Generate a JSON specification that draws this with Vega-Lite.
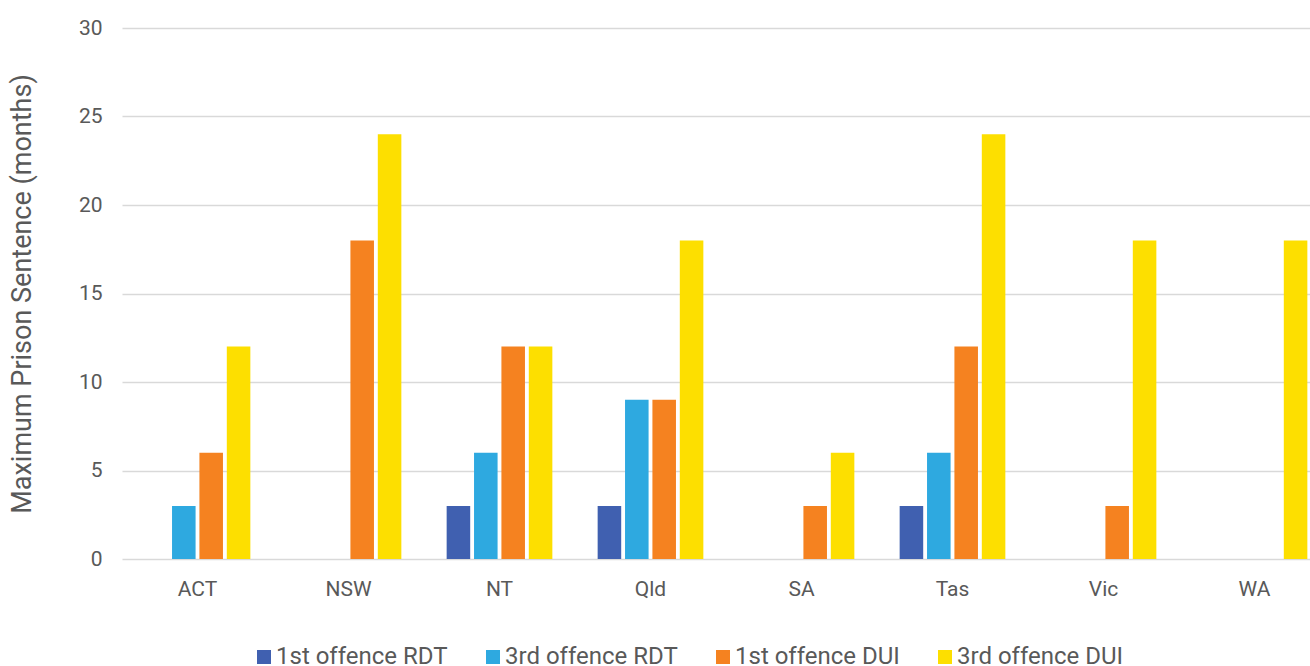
{
  "$schema": "https://vega.github.io/schema/vega-lite/v6.json",
  "autosize": {"type": "none"},
  "padding": {"left": 122, "top": 28, "right": 0, "bottom": 107},
  "width": 1188,
  "height": 531,
  "background": "white",
  "config": {
    "view": {"stroke": null},
    "font": "Roboto",
    "axis": {"labelFont": "Roboto", "titleFont": "Roboto", "labelColor": "#595959", "titleColor": "#595959"},
    "legend": {"labelFont": "Roboto", "labelColor": "#595959"}
  },
  "data": {
    "values": [
      {"state": "ACT", "series": "1st offence RDT", "months": 0},
      {"state": "ACT", "series": "3rd offence RDT", "months": 3},
      {"state": "ACT", "series": "1st offence DUI", "months": 6},
      {"state": "ACT", "series": "3rd offence DUI", "months": 12},
      {"state": "NSW", "series": "1st offence RDT", "months": 0},
      {"state": "NSW", "series": "3rd offence RDT", "months": 0},
      {"state": "NSW", "series": "1st offence DUI", "months": 18},
      {"state": "NSW", "series": "3rd offence DUI", "months": 24},
      {"state": "NT", "series": "1st offence RDT", "months": 3},
      {"state": "NT", "series": "3rd offence RDT", "months": 6},
      {"state": "NT", "series": "1st offence DUI", "months": 12},
      {"state": "NT", "series": "3rd offence DUI", "months": 12},
      {"state": "Qld", "series": "1st offence RDT", "months": 3},
      {"state": "Qld", "series": "3rd offence RDT", "months": 9},
      {"state": "Qld", "series": "1st offence DUI", "months": 9},
      {"state": "Qld", "series": "3rd offence DUI", "months": 18},
      {"state": "SA", "series": "1st offence RDT", "months": 0},
      {"state": "SA", "series": "3rd offence RDT", "months": 0},
      {"state": "SA", "series": "1st offence DUI", "months": 3},
      {"state": "SA", "series": "3rd offence DUI", "months": 6},
      {"state": "Tas", "series": "1st offence RDT", "months": 3},
      {"state": "Tas", "series": "3rd offence RDT", "months": 6},
      {"state": "Tas", "series": "1st offence DUI", "months": 12},
      {"state": "Tas", "series": "3rd offence DUI", "months": 24},
      {"state": "Vic", "series": "1st offence RDT", "months": 0},
      {"state": "Vic", "series": "3rd offence RDT", "months": 0},
      {"state": "Vic", "series": "1st offence DUI", "months": 3},
      {"state": "Vic", "series": "3rd offence DUI", "months": 18},
      {"state": "WA", "series": "1st offence RDT", "months": 0},
      {"state": "WA", "series": "3rd offence RDT", "months": 0},
      {"state": "WA", "series": "1st offence DUI", "months": 0},
      {"state": "WA", "series": "3rd offence DUI", "months": 18}
    ]
  },
  "mark": {"type": "bar"},
  "encoding": {
    "x": {
      "field": "state", "type": "nominal", "sort": null,
      "scale": {"range": [0, 1208], "paddingInner": 0.3, "paddingOuter": 0.15},
      "axis": {"title": null, "labelAngle": 0, "domain": false, "ticks": false, "labelFontSize": 21, "labelPadding": 19}
    },
    "xOffset": {
      "field": "series", "type": "nominal", "sort": null,
      "scale": {"paddingInner": 0.14, "paddingOuter": 0}
    },
    "y": {
      "field": "months", "type": "quantitative",
      "scale": {"domain": [0, 30]},
      "axis": {
        "title": "Maximum Prison Sentence (months)", "titleFontSize": 27, "titleFontWeight": "normal", "titlePadding": 42,
        "values": [0, 5, 10, 15, 20, 25, 30],
        "domain": false, "ticks": false, "labelFontSize": 21, "labelPadding": 20,
        "grid": true, "gridColor": "#d9d9d9", "gridWidth": 1.5
      }
    },
    "color": {
      "field": "series", "type": "nominal", "sort": null,
      "scale": {
        "domain": ["1st offence RDT", "3rd offence RDT", "1st offence DUI", "3rd offence DUI"],
        "range": ["#4060B0", "#2EA9E0", "#F58220", "#FDDF00"]
      },
      "legend": {
        "title": null, "orient": "none", "direction": "horizontal",
        "legendX": 130, "legendY": 617,
        "symbolType": "square", "symbolSize": 196, "symbolStrokeWidth": 0,
        "labelFontSize": 24, "labelOffset": 0, "labelLimit": 0, "columnPadding": 33
      }
    }
  }
}
